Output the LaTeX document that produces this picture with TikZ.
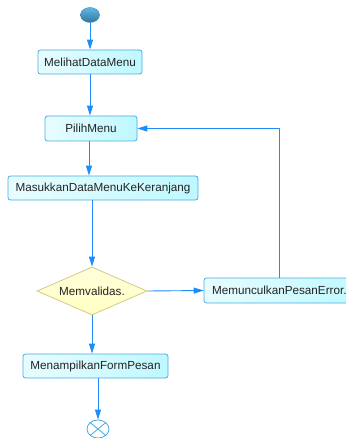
\documentclass[tikz,border=0pt]{standalone}
\usepackage{fontspec}
\setsansfont{Liberation Sans}
\usetikzlibrary{positioning, shapes.geometric, arrows.meta}

\definecolor{flowblue}{RGB}{30,140,250}
\definecolor{boxline}{RGB}{70,170,225}
\definecolor{boxfill}{RGB}{190,248,255}
\definecolor{decline}{RGB}{215,200,130}
\definecolor{decfill}{RGB}{255,255,195}
\definecolor{txtgray}{RGB}{35,35,35}

\begin{document}
\begin{tikzpicture}[x=1pt, y=-1pt, font=\fontsize{11.7}{13}\sffamily\color{txtgray},
    activity/.style={rectangle, rounded corners=2.5pt, draw=boxline, line width=0.8pt,
        left color=boxfill!35, right color=boxfill, minimum height=24pt, inner sep=0pt},
    decision/.style={diamond, draw=decline, line width=0.8pt, top color=decfill!60, bottom color=decfill,
        minimum width=110pt, minimum height=48pt, aspect=2.3, inner sep=0pt},
    flow/.style={draw=flowblue, line width=0.9pt, -{Triangle[length=10pt,width=6pt]}}]
    \useasboundingbox (0,0) rectangle (346,438);
    \clip (0,0) rectangle (346,438);

    \node[ellipse, minimum width=19pt, minimum height=15pt, inner sep=0pt, draw=boxline!80!black, line width=0.4pt,
        top color=boxline!85, bottom color=boxline!70!black] (start) at (90,15) {};
    \node[activity, minimum width=104pt] (melihat) at (90,62) {MelihatDataMenu};
    \node[activity, minimum width=92pt, minimum height=25pt] (pilih) at (91,128.5) {PilihMenu};
    \node[activity, minimum width=190pt] (masuk) at (103,188) {MasukkanDataMenuKeKeranjang};
    \node[decision] (valid) at (92,291) {Memvalidas.};
    \node[activity, minimum width=160pt, minimum height=25pt, text width=144pt, align=left] (error) at (284,290.5) {MemunculkanPesanError.};
    \node[activity, minimum width=145pt] (tampil) at (95.5,366) {MenampilkanFormPesan};
    \node[ellipse, minimum width=22pt, minimum height=18pt, inner sep=0pt, draw=boxline, line width=0.8pt, fill=white] (stop) at (98,429) {};
    \draw[boxline, line width=0.8pt] (stop.north west) -- (stop.south east)
        (stop.north east) -- (stop.south west);

    % alur
    \draw[flow] (start) -- (melihat);
    \draw[flow] (melihat.south) -- (melihat.south |- pilih.north);
    \draw[flow] ([xshift=-2pt]pilih.south) -- ([xshift=-2pt]pilih.south |- masuk.north);
    \draw[flow] (valid.north |- masuk.south) -- (valid.north);
    \draw[flow] (valid.east) -- (error.west);
    \draw[flow] ([xshift=-5pt]error.north) |- (pilih.east);
    \draw[flow] (valid.south) -- (valid.south |- tampil.north);
    \draw[flow] (stop.north |- tampil.south) -- (stop.north);
\end{tikzpicture}
\end{document}
